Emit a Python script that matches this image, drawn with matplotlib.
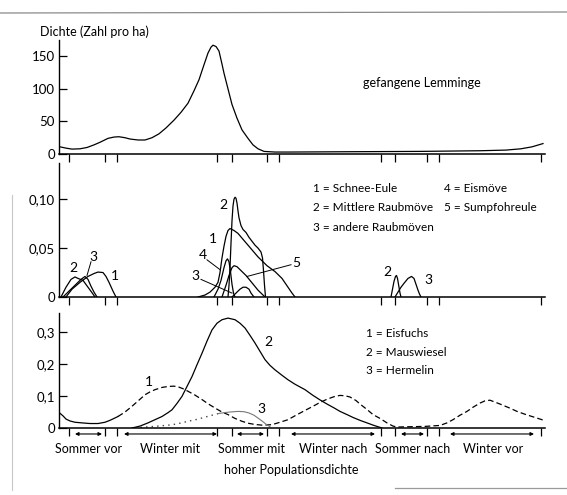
import numpy as np
import matplotlib.pyplot as plt
from matplotlib.lines import Line2D

plt.rcParams['font.family'] = ['Lato', 'DejaVu Sans']

# Zeitachse (Position entlang der Achse, gleiche Einheit in allen drei Feldern)
tick_pos = [69, 105, 117, 217, 232, 267, 279, 381, 395, 427, 439, 541]
seasons = ['Sommer vor', 'Winter mit', 'Sommer mit', 'Winter nach', 'Sommer nach', 'Winter vor']
season_x = [89, 170, 252, 333, 413, 493]
arrow_spans = [(75, 102), (124, 217), (237, 264), (291, 375), (401, 424), (450, 534)]

# gefangene Lemminge
lem_t = [60, 66, 72, 80, 87, 94, 100, 108, 114, 119, 125, 130, 138, 145, 152, 159, 166, 174, 181,
         188, 194, 199, 204, 208, 211, 213, 216, 219, 222, 224, 228, 232, 237, 242, 248, 253, 258,
         264, 275, 289, 350, 420, 480, 506, 521, 532, 543]
lem_v = [11, 9, 7.5, 8, 10, 14, 18, 24, 26, 26.5, 25, 23, 21.5, 21.5, 25, 31, 40, 52, 64,
         78, 97, 114, 137, 155, 164, 167, 165, 158, 138, 124, 100, 76, 55, 37, 24, 14, 8,
         4, 3, 3, 3.5, 4, 5, 6, 8, 11, 16]

# Vögel: 1 Schnee-Eule, 2 Mittlere Raubmöve, 3 andere Raubmöven, 4 Eismöve, 5 Sumpfohreule
b2a_t = [61, 66, 71, 75, 78, 83, 88, 93, 95]
b2a_v = [0, 0.010, 0.018, 0.0205, 0.019, 0.017, 0.010, 0.003, 0]
b3a_t = [63, 70, 76, 81, 85, 88, 91, 94, 97]
b3a_v = [0, 0.007, 0.013, 0.018, 0.021, 0.018, 0.011, 0.005, 0]
b1a_t = [66, 72, 80, 88, 94, 98, 103, 106, 109, 113, 116]
b1a_v = [0, 0.008, 0.015, 0.021, 0.024, 0.0255, 0.025, 0.021, 0.015, 0.006, 0]

b1b_t = [198, 205, 210, 215, 218, 220, 222, 224, 226, 228, 230, 234, 238, 243, 248, 253, 258,
         263, 267, 271, 275, 282, 288, 292, 295]
b1b_v = [0, 0.002, 0.005, 0.010, 0.015, 0.025, 0.040, 0.052, 0.062, 0.068, 0.070, 0.068, 0.065,
         0.059, 0.053, 0.047, 0.041, 0.036, 0.032, 0.029, 0.026, 0.019, 0.010, 0.004, 0]
b2b_t = [228, 229, 230, 231, 232, 233, 234, 235, 236, 237, 238, 239, 241, 243, 246, 249, 252,
         255, 258, 261, 262.5, 263.5, 264.5, 265.5]
b2b_v = [0, 0.012, 0.030, 0.055, 0.078, 0.093, 0.100, 0.102, 0.101, 0.096, 0.088, 0.081, 0.073,
         0.069, 0.066, 0.061, 0.057, 0.053, 0.050, 0.046, 0.040, 0.027, 0.012, 0]
b4b_t = [214, 218, 221, 224, 226, 227.5, 229, 230.5, 232, 233.5, 235]
b4b_v = [0, 0.008, 0.017, 0.030, 0.037, 0.039, 0.036, 0.026, 0.013, 0.004, 0]
b5b_t = [222, 226, 229, 232, 234, 237, 240, 243, 246, 250, 254, 258, 262, 265]
b5b_v = [0, 0.012, 0.022, 0.030, 0.032, 0.031, 0.028, 0.025, 0.022, 0.017, 0.012, 0.007, 0.003, 0]
b3b_t = [232, 236, 240, 243, 246, 249, 251, 254]
b3b_v = [0, 0.004, 0.008, 0.010, 0.010, 0.008, 0.004, 0]

b2c_t = [391, 392.5, 394, 395.5, 396.5, 397.5, 399, 400, 401]
b2c_v = [0, 0.008, 0.016, 0.021, 0.022, 0.019, 0.010, 0.004, 0]
b3c_t = [395, 398, 401, 404, 408, 411.5, 414, 416, 418, 419.5, 421]
b3c_v = [0, 0.005, 0.010, 0.014, 0.019, 0.021, 0.019, 0.013, 0.007, 0.003, 0]

# Säuger: 1 Eisfuchs, 2 Mauswiesel, 3 Hermelin
fox0_t = [60, 63, 66, 70, 75, 82, 90, 98, 105, 110, 114, 118]
fox0_v = [0.046, 0.038, 0.028, 0.022, 0.018, 0.016, 0.014, 0.014, 0.018, 0.024, 0.030, 0.036]
fox_t = [118, 125, 132, 140, 145, 150, 155, 162, 168, 174, 178, 183, 188, 195, 202, 208, 215,
         222, 228, 235, 242, 248, 255, 262, 272, 280, 288, 296, 305, 313, 320, 327, 334, 340,
         345, 350, 356, 360, 367, 373, 380, 387, 393, 397, 410, 425, 440, 447, 453, 460, 467,
         473, 480, 485, 490, 500, 510, 517, 525, 533, 540, 546]
fox_v = [0.036, 0.050, 0.068, 0.090, 0.104, 0.113, 0.120, 0.127, 0.130, 0.131, 0.129, 0.123,
         0.115, 0.103, 0.089, 0.076, 0.0625, 0.050, 0.042, 0.030, 0.021, 0.015, 0.011, 0.009,
         0.0104, 0.018, 0.026, 0.040, 0.055, 0.068, 0.080, 0.090, 0.098, 0.102, 0.101, 0.097,
         0.086, 0.075, 0.058, 0.042, 0.030, 0.016, 0.006, 0.003, 0.004, 0.005, 0.008, 0.016,
         0.026, 0.040, 0.052, 0.065, 0.078, 0.085, 0.087, 0.075, 0.062, 0.052, 0.043, 0.035,
         0.028, 0.022]
weasel_t = [132, 140, 148, 155, 162, 168, 172, 177, 182, 187, 192, 197, 202, 207, 212, 217, 222,
            228, 235, 240, 245, 250, 255, 260, 265, 270, 275, 282, 288, 295, 305, 313, 320, 327,
            334, 340, 347, 353, 360, 367, 374, 382]
weasel_v = [0, 0.006, 0.016, 0.026, 0.036, 0.048, 0.057, 0.077, 0.099, 0.130, 0.161, 0.198,
            0.234, 0.272, 0.307, 0.328, 0.339, 0.344, 0.339, 0.328, 0.313, 0.290, 0.266, 0.240,
            0.214, 0.196, 0.182, 0.165, 0.151, 0.137, 0.120, 0.102, 0.088, 0.075, 0.063, 0.052,
            0.042, 0.033, 0.024, 0.016, 0.008, 0.0]
stoat_t = [135, 145, 155, 165, 172, 180, 188, 197, 205, 212, 218, 224, 230, 238, 244, 249, 254,
           258, 262, 266, 270]
stoat_v = [0, 0.003, 0.005, 0.008, 0.010, 0.015, 0.021, 0.027, 0.034, 0.040, 0.045, 0.048,
           0.050, 0.052, 0.051, 0.047, 0.040, 0.031, 0.022, 0.012, 0.004]

W, H = 567, 495
fig = plt.figure(figsize=(W / 100, H / 100), dpi=100)


def px_axes(top, bottom, right=545):
    return fig.add_axes([59 / W, 1 - bottom / H, (right - 59) / W, (bottom - top) / H])


def style(ax, yt, ylab, ymax):
    ax.set_xlim(59, 545)
    ax.set_ylim(0, ymax)
    for s in ['top', 'right']:
        ax.spines[s].set_visible(False)
    ax.spines['left'].set_linewidth(1.0)
    ax.spines['bottom'].set_linewidth(1.1)
    ax.set_xticks(tick_pos)
    ax.set_xticklabels([])
    ax.tick_params(axis='x', direction='out', length=6, width=0.9)
    ax.set_yticks(yt)
    ax.set_yticklabels(ylab, fontsize=9.5)
    ax.tick_params(axis='y', direction='in', length=6, width=0.9, pad=3)


lw = 0.9
ax1 = px_axes(40, 154)
style(ax1, [0, 50, 100, 150], ['0', '50', '100', '150'], 175)
ax1.plot(lem_t, lem_v, c='black', lw=lw)
ax1.text(363, 109, 'gefangene Lemminge', fontsize=9, va='center')
fig.text(40 / W, 1 - 32 / H, 'Dichte (Zahl pro ha)', fontsize=9, va='center')

ax2 = px_axes(163, 297)
style(ax2, [0, 0.05, 0.10], ['0', '0,05', '0,10'], 0.137)
for t, v in [(b2a_t, b2a_v), (b3a_t, b3a_v), (b1a_t, b1a_v), (b1b_t, b1b_v), (b2b_t, b2b_v),
             (b4b_t, b4b_v), (b5b_t, b5b_v), (b3b_t, b3b_v), (b2c_t, b2c_v), (b3c_t, b3c_v)]:
    ax2.plot(t, v, c='black', lw=lw)
num2 = [('2', 73, 0.030), ('3', 93, 0.041), ('1', 115, 0.021),
        ('2', 223, 0.094), ('1', 213, 0.059), ('4', 203, 0.043), ('3', 195, 0.021),
        ('5', 296, 0.035), ('2', 387, 0.026), ('3', 428, 0.017)]
for s, x, y in num2:
    ax2.text(x, y, s, fontsize=10, ha='center', va='center')
for (x0, y0), (x1, y1) in [((91, 0.036), (87, 0.022)), ((207, 0.038), (220, 0.028)),
                           ((201, 0.018), (232, 0.004)), ((291, 0.033), (247, 0.021))]:
    ax2.plot([x0, x1], [y0, y1], c='black', lw=0.7)
leg2 = [(313, 0.111, '1 = Schnee-Eule'), (313, 0.091, '2 = Mittlere Raubmöve'),
        (313, 0.071, '3 = andere Raubmöven'), (444, 0.111, '4 = Eismöve'),
        (444, 0.092, '5 = Sumpfohreule')]
for x, y, s in leg2:
    ax2.text(x, y, s, fontsize=8.5, va='center')

ax3 = px_axes(313, 428)
style(ax3, [0, 0.1, 0.2, 0.3], ['0', '0,1', '0,2', '0,3'], 0.36)
ax3.plot(fox0_t, fox0_v, c='black', lw=lw)
ax3.plot(fox_t, fox_v, c='black', lw=lw, ls=(0, (4.5, 2.5)))
ax3.plot(weasel_t, weasel_v, c='black', lw=lw)
ax3.plot(stoat_t[:11], stoat_v[:11], c='#444444', lw=1.0, ls=(0, (1, 3)))
ax3.plot(stoat_t[10:], stoat_v[10:], c='#777777', lw=0.8)
for s, x, y in [('1', 149, 0.144), ('2', 268, 0.27), ('3', 261, 0.059)]:
    ax3.text(x, y, s, fontsize=10, ha='center', va='center')
for y, s in [(0.297, '1 = Eisfuchs'), (0.2375, '2 = Mauswiesel'), (0.181, '3 = Hermelin')]:
    ax3.text(366, y, s, fontsize=8.5, va='center')
for x0, x1 in arrow_spans:
    ax3.annotate('', xy=(x1, -0.052), xytext=(x0, -0.052),
                 xycoords=('data', 'axes fraction'), textcoords=('data', 'axes fraction'),
                 arrowprops=dict(arrowstyle='<|-|>', lw=0.8, color='black',
                                 mutation_scale=5, shrinkA=0, shrinkB=0))
for x, s in zip(season_x, seasons):
    fig.text(x / W, 1 - 449 / H, s, fontsize=9, ha='center', va='center')
fig.text(291 / W, 1 - 470 / H, 'hoher Populationsdichte', fontsize=9, ha='center', va='center')

# Rahmenreste des Scans
fig.add_artist(Line2D([0, 1], [1 - 13 / H, 1 - 12 / H], color='#8a8a8a', lw=0.9))
fig.add_artist(Line2D([12 / W, 12 / W], [1 - 195 / H, 1 - 490 / H], color='#c8c8c8', lw=0.8))
fig.add_artist(Line2D([395 / W, 1], [1 - 488 / H, 1 - 488 / H], color='#9a9a9a', lw=0.9))

fig.savefig('out.png', dpi=100)
